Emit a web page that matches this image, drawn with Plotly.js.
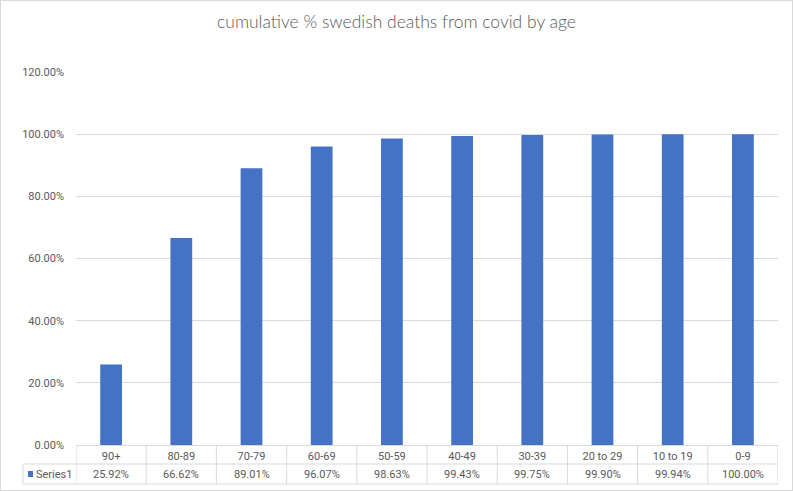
<!DOCTYPE html>
<html><head><meta charset="utf-8">
<script src="https://cdn.plot.ly/plotly-3.0.1.min.js"></script>
<style>
html,body{margin:0;padding:0;background:#fff;}
#wrap{position:relative;width:793px;height:491px;}
#chart{width:793px;height:491px;}
#frame{position:absolute;left:0;top:0;width:791px;height:489px;border:1px solid #d9d9d9;pointer-events:none;}
</style></head>
<body>
<div id="wrap"><div id="chart"></div><div id="frame"></div></div>
<script>
const categories = ["90+","80-89","70-79","60-69","50-59","40-49","30-39","20 to 29","10 to 19","0-9"];
const seriesName = "Series1";
const values = [0.2592,0.6662,0.8901,0.9607,0.9863,0.9943,0.9975,0.9990,0.9994,1.0000];
const valueLabels = ["25.92%","66.62%","89.01%","96.07%","98.63%","99.43%","99.75%","99.90%","99.94%","100.00%"];

const W = 793, H = 491;
const m = {l:76, r:15, t:72, b:46};
const pw = W - m.l - m.r, ph = H - m.t - m.b;
const px2x = p => (p - m.l) / pw;
const py2y = p => (H - m.b - p) / ph;

const font = "Roboto, sans-serif";
const fs = 11;
const grey = "#595959", line = "#d9d9d9", blue = "#4472c4";

const rowSep = py2y(464), rowBot = py2y(484), rowMid = py2y(474);
const legLeft = px2x(23);

const shapes = [];
for (let i = 0; i <= categories.length; i++) {
  shapes.push({type:'line', xref:'x', yref:'paper', x0:i-0.5, x1:i-0.5, y0:0, y1:rowBot, line:{color:line, width:1}});
}
shapes.push({type:'line', xref:'paper', yref:'paper', x0:legLeft, x1:1, y0:rowSep, y1:rowSep, line:{color:line, width:1}});
shapes.push({type:'line', xref:'paper', yref:'paper', x0:legLeft, x1:1, y0:rowBot, y1:rowBot, line:{color:line, width:1}});
shapes.push({type:'line', xref:'paper', yref:'paper', x0:legLeft, x1:legLeft, y0:rowSep, y1:rowBot, line:{color:line, width:1}});
shapes.push({type:'rect', xref:'paper', yref:'paper', x0:px2x(28), x1:px2x(33), y0:py2y(477), y1:py2y(471), fillcolor:blue, line:{width:0}});

const annotations = categories.map((c, i) => ({
  x: c, xref:'x', y: rowMid, yref:'paper', text: valueLabels[i], showarrow:false,
  font:{family:font, size:fs, color:grey}, xanchor:'center', yanchor:'middle'
}));
annotations.push({x:px2x(36), xref:'paper', y:rowMid, yref:'paper', text:seriesName, showarrow:false,
  font:{family:font, size:fs, color:grey}, xanchor:'left', yanchor:'middle', xshift:-2});

const trace = {type:'bar', x:categories, y:values, name:seriesName, marker:{color:blue}, hoverinfo:'x+y'};

const layout = {
  width:W, height:H, margin:m, paper_bgcolor:'#fff', plot_bgcolor:'#fff', showlegend:false,
  bargap:0.69,
  title:{text:"cumulative % swedish deaths from covid by age", x:0.5, xref:'container', xanchor:'center', y:1-22/H, yanchor:'middle',
    font:{family:"Lato, sans-serif", weight:300, size:17.5, color:grey}},
  xaxis:{type:'category', showgrid:false, showline:false, zeroline:false, ticks:'', ticklabelstandoff:3,
    tickfont:{family:font, size:fs, color:grey}, range:[-0.5, categories.length-0.5]},
  yaxis:{range:[0,1.2], dtick:0.2, tickformat:'.2%', showgrid:true, gridcolor:line, gridwidth:1, zeroline:true, zerolinecolor:line, zerolinewidth:1,
    showline:false, ticks:'', ticklabelstandoff:11, tickfont:{family:font, size:fs, color:grey}},
  shapes:shapes, annotations:annotations
};
Plotly.newPlot('chart', [trace], layout, {displayModeBar:false, staticPlot:true});
</script>
</body></html>
